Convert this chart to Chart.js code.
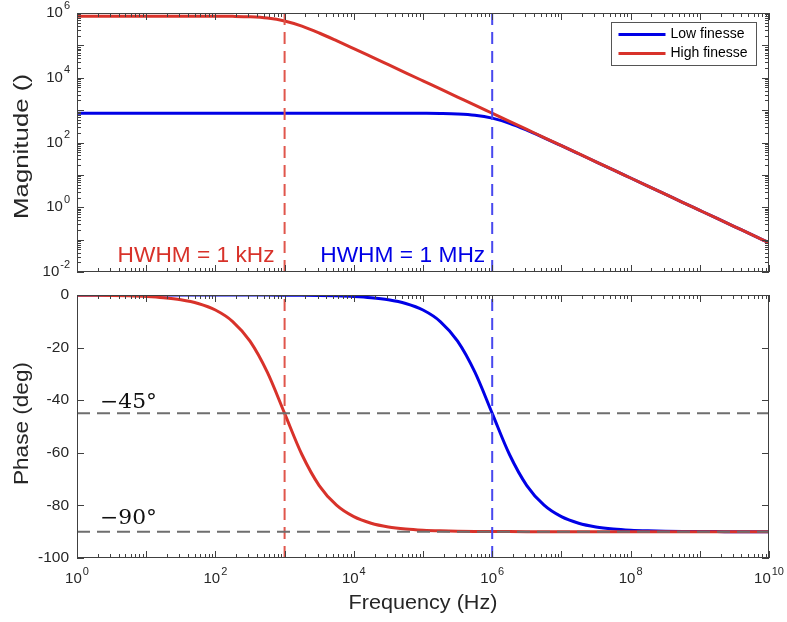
<!DOCTYPE html>
<html>
<head>
<meta charset="utf-8">
<script src="https://cdn.jsdelivr.net/npm/chart.js@4.4.1/dist/chart.umd.min.js"></script>
<style>
    html, body { margin: 0; padding: 0; background: #fff; }
    #quadro { position: relative; width: 787px; height: 622px; }
    canvas { position: absolute; left: 0; }
    #chartMag { top: 0; }
    #chartFase { top: 283px; }
</style>
</head>
<body>
<div id="quadro">
    <canvas id="chartMag" width="787" height="283"></canvas>
    <canvas id="chartFase" width="787" height="339"></canvas>
</div>
<script>
// frequencias em passos de 1/4 de decada (Hz)
const frequencias = [
    1, 1.778, 3.162, 5.623, 10, 17.78, 31.62, 56.23,
    100, 177.8, 316.2, 562.3, 1000, 1778, 3162, 5623,
    1e4, 1.778e4, 3.162e4, 5.623e4, 1e5, 1.778e5, 3.162e5, 5.623e5,
    1e6, 1.778e6, 3.162e6, 5.623e6, 1e7, 1.778e7, 3.162e7, 5.623e7,
    1e8, 1.778e8, 3.162e8, 5.623e8, 1e9, 1.778e9, 3.162e9, 5.623e9, 1e10
];

const magBaixa = [
    800, 800, 800, 800, 800, 800, 800, 800,
    800, 800, 800, 800, 800, 800, 800, 800,
    800, 799.9, 799.6, 798.7, 796.0, 787.7, 762.8, 697.3,
    565.7, 392.2, 241.2, 140.1, 79.60, 44.92, 25.28, 14.23,
    8.000, 4.499, 2.530, 1.423, 0.800, 0.4499, 0.2530, 0.1423, 0.0800
];

const magAlta = [
    8e5, 8e5, 8e5, 8e5, 799960, 799874, 799600, 798737,
    796030, 787650, 762770, 697300, 565690, 392150, 241210, 140070,
    79603, 44920, 25284, 14226, 8000, 4499, 2530, 1423,
    800, 449.9, 253.0, 142.3, 80.00, 44.99, 25.30, 14.23,
    8.000, 4.499, 2.530, 1.423, 0.800, 0.4499, 0.2530, 0.1423, 0.0800
];

const faseBaixa = [
    0, 0, 0, 0, 0, 0, 0, 0,
    -0.01, -0.01, -0.02, -0.03, -0.06, -0.10, -0.18, -0.32,
    -0.57, -1.02, -1.81, -3.22, -5.71, -10.08, -17.55, -29.35,
    -45.00, -60.65, -72.45, -79.92, -84.29, -86.78, -88.19, -88.98,
    -89.43, -89.68, -89.82, -89.90, -89.94, -89.97, -89.98, -89.99, -89.99
];

const faseAlta = [
    -0.06, -0.10, -0.18, -0.32, -0.57, -1.02, -1.81, -3.22,
    -5.71, -10.08, -17.55, -29.35, -45.00, -60.65, -72.45, -79.92,
    -84.29, -86.78, -88.19, -88.98, -89.43, -89.68, -89.82, -89.90,
    -89.94, -89.97, -89.98, -89.99, -90, -90, -90, -90,
    -90, -90, -90, -90, -90, -90, -90, -90, -90
];

const nomesSeries = ['Low finesse', 'High finesse'];
const hwhmFreqs = [1e3, 1e6];
const rotulosHwhm = ['HWHM = 1 kHz', 'HWHM = 1 MHz'];
const fasesRef = [-45, -90];
const rotulosFase = ['\u221245\u00b0', '\u221290\u00b0'];
const limitesFreq = [1, 1e10];
const limitesMag = [1e-2, 1e6];
const limitesFase = [-100, 0];
const passoFase = 20;

const corAzul = '#0000e6';
const corVermelho = '#d8322a';
const corAzulTracejado = '#4848ee';
const corVermelhoTracejado = '#e0564c';
const corCinza = '#6e6e6e';
const corEixo = '#404040';
const corTexto = '#262626';
const familia = '"Liberation Sans", Arial, Helvetica, sans-serif';

function pares(valores) {
    return frequencias.map((f, i) => ({ x: f, y: valores[i] }));
}

function textoAjustado(ctx, texto, x, y, larguraAlvo, align, rot) {
    ctx.save();
    ctx.translate(x, y);
    if (rot) ctx.rotate(rot);
    const w = ctx.measureText(texto).width;
    ctx.scale(larguraAlvo ? larguraAlvo / w : 1, 1);
    ctx.textAlign = align;
    ctx.fillText(texto, 0, 0);
    ctx.restore();
}

function rotuloPotencia(ctx, exp, x, y, align) {
    ctx.font = '15px ' + familia;
    const wb = ctx.measureText('10').width;
    ctx.font = '11px ' + familia;
    const we = ctx.measureText(String(exp)).width;
    const total = wb + we + 1;
    const x0 = align === 'right' ? x - total : x - total / 2;
    ctx.textAlign = 'left';
    ctx.textBaseline = 'middle';
    ctx.font = '15px ' + familia;
    ctx.fillText('10', x0, y);
    ctx.font = '11px ' + familia;
    ctx.fillText(String(exp), x0 + wb + 1, y - 7.5);
}

// valores de marcas de uma escala log: [valor, principal?]
function marcasLog(escala) {
    const marcas = [];
    const e0 = Math.round(Math.log10(escala.min));
    const e1 = Math.round(Math.log10(escala.max));
    for (let e = e0; e < e1; e++) {
        for (let m = 1; m <= 9; m++) marcas.push([m * Math.pow(10, e), m === 1, e]);
    }
    marcas.push([Math.pow(10, e1), true, e1]);
    return marcas;
}

const eixosMatlab = {
    id: 'eixosMatlab',
    afterDraw(chart, args, opts) {
        const ctx = chart.ctx;
        const a = chart.chartArea;
        const sx = chart.scales.x;
        const sy = chart.scales.y;
        ctx.save();

        // caixa
        ctx.strokeStyle = corEixo;
        ctx.lineWidth = 1;
        ctx.strokeRect(Math.round(a.left) + 0.5, Math.round(a.top) + 0.5,
            Math.round(a.right - a.left) - 1, Math.round(a.bottom - a.top) - 1);

        // marcas x (log), para dentro, em baixo e em cima
        ctx.beginPath();
        marcasLog(sx).forEach(([v, principal]) => {
            const px = Math.round(sx.getPixelForValue(v)) + 0.5;
            const len = principal ? 7 : 4;
            ctx.moveTo(px, a.bottom); ctx.lineTo(px, a.bottom - len);
            ctx.moveTo(px, a.top); ctx.lineTo(px, a.top + len);
        });
        // marcas y
        if (sy.type === 'logarithmic') {
            marcasLog(sy).forEach(([v, principal]) => {
                const py = Math.round(sy.getPixelForValue(v)) + 0.5;
                const len = principal ? 7 : 4;
                ctx.moveTo(a.left, py); ctx.lineTo(a.left + len, py);
                ctx.moveTo(a.right, py); ctx.lineTo(a.right - len, py);
            });
        } else {
            sy.ticks.forEach(t => {
                const py = Math.round(sy.getPixelForValue(t.value)) + 0.5;
                ctx.moveTo(a.left, py); ctx.lineTo(a.left + 7, py);
                ctx.moveTo(a.right, py); ctx.lineTo(a.right - 7, py);
            });
        }
        ctx.stroke();

        // rotulos y
        ctx.fillStyle = corTexto;
        if (sy.type === 'logarithmic') {
            marcasLog(sy).forEach(([v, principal, e]) => {
                if (principal && e % 2 === 0) rotuloPotencia(ctx, e, a.left - 7, sy.getPixelForValue(v), 'right');
            });
        } else {
            ctx.font = '15.5px ' + familia;
            ctx.textAlign = 'right';
            ctx.textBaseline = 'middle';
            sy.ticks.forEach(t => ctx.fillText(String(t.value), a.left - 8, sy.getPixelForValue(t.value)));
        }

        // rotulos x
        if (opts.rotulosX) {
            marcasLog(sx).forEach(([v, principal, e]) => {
                if (principal && e % 2 === 0) rotuloPotencia(ctx, e, sx.getPixelForValue(v), a.bottom + 21, 'center');
            });
            ctx.font = '21px ' + familia;
            ctx.textBaseline = 'middle';
            textoAjustado(ctx, 'Frequency (Hz)', (a.left + a.right) / 2, a.bottom + 45, 149, 'center');
        }

        // titulo y
        ctx.font = '21px ' + familia;
        ctx.textBaseline = 'middle';
        textoAjustado(ctx, opts.tituloY, 22, (a.top + a.bottom) / 2 + opts.desvioTituloY,
            opts.larguraTituloY, 'center', -Math.PI / 2);

        // anotacoes HWHM
        if (opts.hwhm) {
            ctx.font = '22px ' + familia;
            ctx.textBaseline = 'alphabetic';
            const cores = [corVermelho, corAzul];
            const larguras = [157, 165];
            const folgas = [10, 7];
            hwhmFreqs.forEach((f, i) => {
                ctx.fillStyle = cores[i];
                textoAjustado(ctx, rotulosHwhm[i], sx.getPixelForValue(f) - folgas[i], a.bottom - 10, larguras[i], 'right');
            });
        }

        // anotacoes de fase
        if (opts.fases) {
            ctx.font = '20px "DejaVu Serif", "Liberation Serif", serif';
            ctx.textBaseline = 'alphabetic';
            ctx.fillStyle = '#111';
            const subida = [5, 8];
            fasesRef.forEach((p, i) => {
                textoAjustado(ctx, rotulosFase[i], a.left + 23, sy.getPixelForValue(p) - subida[i], 57, 'left');
            });
        }

        // legenda
        if (opts.legenda) {
            const bx = Math.round(a.right) - 157.5, by = Math.round(a.top) + 9.5;
            ctx.fillStyle = '#fff';
            ctx.fillRect(bx, by, 145, 43);
            ctx.strokeStyle = '#555';
            ctx.lineWidth = 1;
            ctx.strokeRect(bx, by, 145, 43);
            const cores = [corAzul, corVermelho];
            ctx.font = '14px ' + familia;
            ctx.textAlign = 'left';
            ctx.textBaseline = 'middle';
            nomesSeries.forEach((nome, i) => {
                const ly = by + 12 + i * 19;
                ctx.strokeStyle = cores[i];
                ctx.lineWidth = 3;
                ctx.beginPath();
                ctx.moveTo(bx + 7, ly); ctx.lineTo(bx + 54, ly);
                ctx.stroke();
                ctx.fillStyle = '#000';
                ctx.fillText(nome, bx + 59, ly);
            });
        }
        ctx.restore();
    }
};

function linhaVertical(f, limites, cor) {
    return {
        data: [{ x: f, y: limites[0] }, { x: f, y: limites[1] }],
        borderColor: cor, borderWidth: 2, borderDash: [12, 7], order: 2
    };
}

function linhaHorizontal(p) {
    return {
        data: [{ x: limitesFreq[0], y: p }, { x: limitesFreq[1], y: p }],
        borderColor: corCinza, borderWidth: 2, borderDash: [13, 7], order: 1
    };
}

function serie(nome, valores, cor, ordem) {
    return {
        label: nome, data: pares(valores), borderColor: cor, borderWidth: 3,
        cubicInterpolationMode: 'monotone', order: ordem
    };
}

function opcoes(limitesY, tipoY, padding, extras) {
    return {
        responsive: false,
        animation: false,
        layout: { padding },
        elements: { point: { radius: 0 }, line: { borderCapStyle: 'butt' } },
        scales: {
            x: { type: 'logarithmic', min: limitesFreq[0], max: limitesFreq[1], display: false },
            y: { type: tipoY, min: limitesY[0], max: limitesY[1], display: false,
                 ticks: { stepSize: passoFase } }
        },
        plugins: {
            legend: { display: false },
            tooltip: { enabled: false },
            eixosMatlab: extras
        }
    };
}

new Chart(document.getElementById('chartMag'), {
    type: 'line',
    data: {
        datasets: [
            serie(nomesSeries[0], magBaixa, corAzul, 4),
            serie(nomesSeries[1], magAlta, corVermelho, 3),
            linhaVertical(hwhmFreqs[0], limitesMag, corVermelhoTracejado),
            linhaVertical(hwhmFreqs[1], limitesMag, corAzulTracejado)
        ]
    },
    options: opcoes(limitesMag, 'logarithmic', { left: 77, right: 18, top: 13, bottom: 11 },
        { tituloY: 'Magnitude ()', larguraTituloY: 145, desvioTituloY: 4, hwhm: true, legenda: true }),
    plugins: [eixosMatlab]
});

new Chart(document.getElementById('chartFase'), {
    type: 'line',
    data: {
        datasets: [
            serie(nomesSeries[0], faseBaixa, corAzul, 4),
            serie(nomesSeries[1], faseAlta, corVermelho, 3),
            linhaVertical(hwhmFreqs[0], limitesFase, corVermelhoTracejado),
            linhaVertical(hwhmFreqs[1], limitesFase, corAzulTracejado),
            linhaHorizontal(fasesRef[0]),
            linhaHorizontal(fasesRef[1])
        ]
    },
    options: opcoes(limitesFase, 'linear', { left: 77, right: 18, top: 12, bottom: 64 },
        { tituloY: 'Phase (deg)', larguraTituloY: 123, desvioTituloY: -3, rotulosX: true, fases: true }),
    plugins: [eixosMatlab]
});
</script>
</body>
</html>
